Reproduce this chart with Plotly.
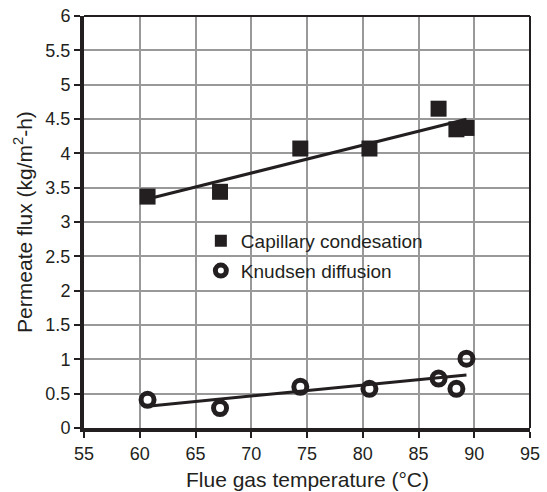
import numpy as np
import plotly.graph_objects as go

temp = [60.7, 67.2, 74.4, 80.6, 86.8, 88.4, 89.3]
capillary = [3.37, 3.44, 4.07, 4.07, 4.65, 4.35, 4.37]
knudsen = [0.41, 0.29, 0.60, 0.57, 0.72, 0.57, 1.01]
x_ticks = [55, 60, 65, 70, 75, 80, 85, 90, 95]
y_ticks = [0, 0.5, 1, 1.5, 2, 2.5, 3, 3.5, 4, 4.5, 5, 5.5, 6]
y_labels = ["0", "0.5", "1", "1.5", "2", "2.5", "3", "3.5", "4", "4.5", "5", "5.5", "6"]
series_names = ["Capillary condesation", "Knudsen diffusion"]

INK = "#231f20"

def trend(x, y):
    k, b = np.polyfit(x, y, 1)
    xs = [min(x), max(x)]
    return xs, [k * v + b for v in xs]

fig = go.Figure()
tx, ty = trend(temp, capillary)
fig.add_trace(go.Scatter(x=tx, y=ty, mode="lines", line=dict(color=INK, width=3), showlegend=False))
tx, ty = trend(temp, knudsen)
fig.add_trace(go.Scatter(x=tx, y=ty, mode="lines", line=dict(color=INK, width=3), showlegend=False))

fig.add_trace(go.Scatter(x=temp, y=capillary, mode="markers", name=series_names[0], showlegend=False,
                         marker=dict(symbol="square", size=16, color=INK, line=dict(width=0))))
fig.add_trace(go.Scatter(x=temp, y=knudsen, mode="markers", name=series_names[1], showlegend=False,
                         marker=dict(symbol="circle-open", size=13, color=INK, line=dict(width=5, color=INK))))

# legend entries (same series, legend-sized symbols)
fig.add_trace(go.Scatter(x=[None], y=[None], mode="markers", name=series_names[0], legendgroup="a",
                         marker=dict(symbol="square", size=12, color=INK, line=dict(width=0))))
fig.add_trace(go.Scatter(x=[None], y=[None], mode="markers", name=series_names[1], legendgroup="b",
                         marker=dict(symbol="circle-open", size=11, color=INK, line=dict(width=5, color=INK))))

fig.add_shape(type="rect", xref="paper", yref="paper", x0=0.242, x1=0.805, y0=0.335, y1=0.485,
              fillcolor="white", line=dict(width=0), layer="between")
fig.add_shape(type="line", xref="paper", yref="paper", x0=0, x1=1, y0=1, y1=1, line=dict(color=INK, width=2))
fig.add_shape(type="line", xref="paper", yref="paper", x0=1, x1=1, y0=0, y1=1, line=dict(color=INK, width=2))

fig.add_annotation(text="Flue gas temperature (°C)", xref="paper", yref="paper", x=0.5, y=-0.126,
                   xanchor="center", yanchor="middle", showarrow=False, font=dict(size=21, color=INK))
fig.add_annotation(text="Permeate flux (kg/m<sup>2</sup>-h)", xref="paper", yref="paper", x=-0.137, y=0.5,
                   xanchor="center", yanchor="middle", textangle=-90, showarrow=False, font=dict(size=21, color=INK))

font = "Liberation Sans, Arial, sans-serif"
fig.update_layout(
    width=547, height=492,
    margin=dict(l=84, r=17, t=16, b=64, autoexpand=False),
    paper_bgcolor="white", plot_bgcolor="white",
    font=dict(family=font, color=INK, size=18),
    legend=dict(x=0.262, y=0.50, xanchor="left", yanchor="top", bgcolor="rgba(0,0,0,0)",
                font=dict(size=19), tracegroupgap=2, itemsizing="trace"),
    xaxis=dict(range=[55, 95], tickvals=x_ticks, showgrid=True, gridcolor="#999999", gridwidth=1.5,
               showline=True, linecolor=INK, linewidth=4, ticks="outside", ticklen=6, tickwidth=2,
               tickcolor=INK, zeroline=False, automargin=False, tickfont=dict(size=18)),
    yaxis=dict(range=[0, 6], tickvals=y_ticks, ticktext=y_labels, showgrid=True, gridcolor="#999999", gridwidth=1.5,
               showline=True, linecolor=INK, linewidth=4, ticks="outside", ticklen=6, tickwidth=2,
               tickcolor=INK, zeroline=False, automargin=False, tickfont=dict(size=18)),
)

fig.write_html("out.html", config={"displayModeBar": False},
               post_script="document.body.style.margin='0';")
